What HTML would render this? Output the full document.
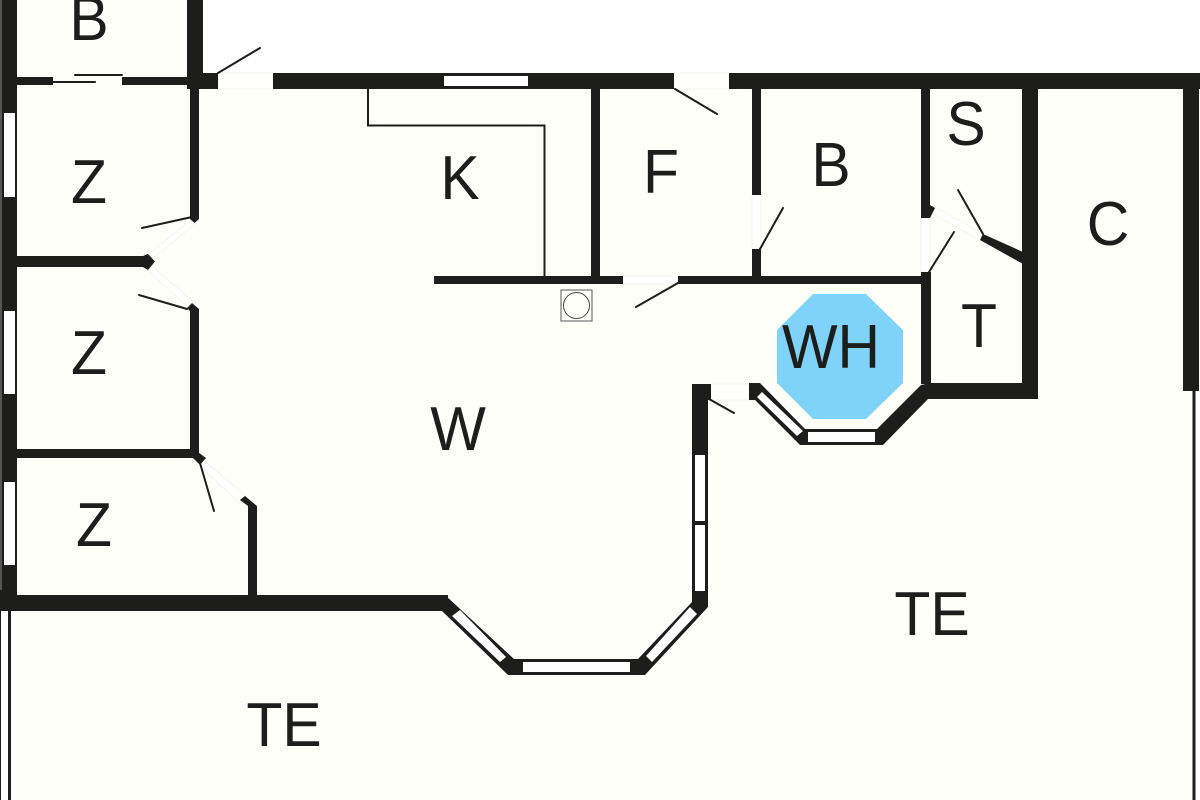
<!DOCTYPE html>
<html lang="en">
<head>
<meta charset="utf-8">
<title>Floor plan</title>
<style>
html,body{margin:0;padding:0;background:#fff;width:1200px;height:800px;overflow:hidden}
svg{display:block}
text{font-family:"Liberation Sans",sans-serif;font-size:62px;fill:#1d1d1b;text-anchor:middle;transform-box:fill-box;transform-origin:center;transform:scaleX(.95)}
</style>
</head>
<body>
<svg width="1200" height="800" viewBox="0 0 1200 800" xmlns="http://www.w3.org/2000/svg">
<rect width="1200" height="800" fill="#fff"/>
<!-- interior and terrace -->
<polygon points="17,0 187,0 187,73 1196,73 1196,800 8,800 8,610 17,610" fill="#fffffa"/>
<rect x="0" y="0" width="2" height="610" fill="#555"/>

<!-- faint door openings -->
<g fill="#fffffd" stroke="#f3f3ee" stroke-width="1">
<rect x="218" y="73" width="55" height="16"/>
<rect x="674" y="73" width="55" height="16"/>
<rect x="623" y="276" width="55" height="8"/>
<rect x="752" y="195" width="9" height="54"/>
<rect x="921" y="218" width="9" height="54"/>
<rect x="711" y="384" width="38" height="16"/>
<polygon points="933,206 983,234 980,240 930,212"/>
<polygon points="190,221 199,221 153,258 146,256"/>
<polygon points="153,267 146,269 187,306 196,304"/>
<polygon points="202,459 196,463 240,503 247,497"/>
</g>

<!-- walls -->
<g fill="#1d1d1b">
<rect x="2" y="0" width="15" height="611"/>
<rect x="0" y="590" width="2" height="21"/>
<rect x="187" y="0" width="16" height="89"/>
<rect x="187" y="73" width="31" height="16"/>
<rect x="17" y="77" width="36" height="8"/>
<rect x="122" y="77" width="65" height="8"/>
<rect x="273" y="73" width="401" height="16"/>
<rect x="729" y="73" width="471" height="16"/>
<rect x="1183" y="73" width="16" height="318"/>
<rect x="1192.500" y="391" width="3" height="409"/>
<rect x="8" y="610" width="3" height="190"/>
<rect x="0" y="610" width="1" height="190"/>
<!-- left rooms -->
<rect x="190" y="89" width="9" height="128"/>
<polygon points="190,217 199,217 199,219 194.500,223 190,219"/>
<rect x="17" y="256" width="127" height="11"/>
<polygon points="148,254 155,261.500 148,270 143,267 143,256"/>
<polygon points="190,311 187,308 192,303 199,309 199,450 190,450"/>
<rect x="17" y="449" width="182" height="9"/>
<polygon points="195,450 206,458 200,465 192,457"/>
<polygon points="248,506 240,500 245,496 257,506 257,596 248,596"/>
<rect x="17" y="595" width="431" height="16"/>
<!-- kitchen partitions -->
<rect x="434" y="276" width="189" height="8"/>
<rect x="678" y="276" width="252" height="8"/>
<rect x="591" y="89" width="9" height="187"/>
<rect x="752" y="89" width="9" height="106"/>
<rect x="752" y="249" width="9" height="35"/>
<rect x="921" y="89" width="9" height="128"/>
<polygon points="930,205 935,208 930,218 921,218 921,205"/>
<rect x="921" y="272" width="10" height="112"/>
<polygon points="980,240 983,234 1023,252 1023,264"/>
<rect x="1022" y="73" width="16" height="326"/>
<!-- big bay -->
<polygon points="445,595 514,659 638,659 692,602 692,384 711,384 711,400 708,400 708,607 645,675 508,675 442,611"/>
<!-- small bay -->
<polygon points="749,383 760,383 805,429 877,429 921,385 930,383 1038,383 1038,399 928,399 883,445 800,445 755,400 749,400"/>
</g>

<!-- windows -->
<g fill="#ffffff">
<rect x="4" y="113" width="11" height="84"/>
<rect x="4" y="311" width="11" height="83"/>
<rect x="4" y="482" width="11" height="83"/>
<rect x="444" y="76" width="84" height="10"/>
<rect x="695" y="455" width="10" height="66"/>
<rect x="695" y="525" width="10" height="66"/>
<rect x="523" y="662" width="107" height="10"/>
<polygon points="460,610 506,657 500,662 452,616"/>
<polygon points="690,607 697,614 652,662 646,656"/>
<rect x="808" y="432" width="67" height="10"/>
<polygon points="757,397 762,392 803,431 797,436"/>
</g>

<!-- door leaves -->
<g stroke="#1d1d1b" stroke-width="2" fill="none" stroke-linecap="round">
<line x1="53" y1="82" x2="95" y2="82"/>
<line x1="75" y1="75" x2="122" y2="75"/>
<line x1="218" y1="73" x2="260" y2="48"/>
<line x1="675" y1="89" x2="717" y2="114"/>
<line x1="192" y1="217" x2="142" y2="228"/>
<line x1="139" y1="295" x2="187" y2="309"/>
<line x1="200" y1="463" x2="214" y2="511"/>
<line x1="678" y1="283" x2="636" y2="307"/>
<line x1="760" y1="249" x2="783" y2="208"/>
<line x1="929" y1="272" x2="954" y2="232"/>
<line x1="983" y1="234" x2="958" y2="190"/>
<line x1="709" y1="399" x2="734" y2="413"/>
</g>

<!-- kitchen counter and stove -->
<polyline points="368,89 368,125.500 544.500,125.500 544.500,276" fill="none" stroke="#1d1d1b" stroke-width="2"/>
<rect x="561" y="290" width="31" height="31" fill="none" stroke="#555" stroke-width="1"/>
<circle cx="576.500" cy="305.500" r="13" fill="none" stroke="#444" stroke-width="1"/>

<!-- whirlpool -->
<polygon points="813,294 866,294 903,330 903,383 866,419 813,419 777,383 777,330" fill="#7fd3f8"/>

<!-- labels -->
<text x="89" y="40">B</text>
<text x="89" y="203">Z</text>
<text x="89" y="374">Z</text>
<text x="94" y="546">Z</text>
<text x="460" y="199">K</text>
<text x="661" y="193">F</text>
<text x="831" y="186">B</text>
<text x="966" y="145">S</text>
<text x="1108" y="245">C</text>
<text x="979" y="347">T</text>
<text x="831" y="368">WH</text>
<text x="458" y="450">W</text>
<text x="932" y="635">TE</text>
<text x="284" y="746">TE</text>
</svg>
</body>
</html>
